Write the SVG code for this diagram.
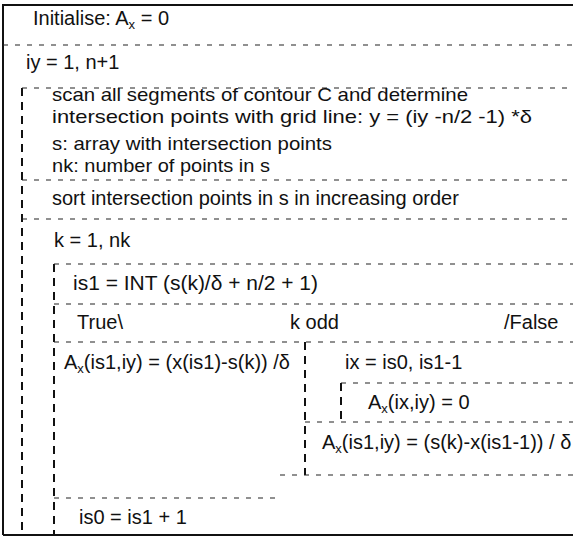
<svg xmlns="http://www.w3.org/2000/svg" width="573" height="537" viewBox="0 0 573 537">
<style>
text{font-family:"Liberation Sans",Arial,sans-serif;font-size:20px;fill:#111}
.t19{font-size:19px}
.sub{font-size:13px}
.frame{stroke:#111;stroke-width:2;fill:none}
.h{stroke:#222;stroke-width:1.2;stroke-dasharray:5 7;fill:none}
.v{stroke:#111;stroke-width:2;stroke-dasharray:8 6;fill:none}
</style>
<rect width="573" height="537" fill="#fff"/>
<g id="connectors">
<path class="frame" d="M3 535V5H573M3 535H573"/>
<path class="h" d="M3 45H573"/>
<path class="v" d="M22 88V535"/>
<path class="h" d="M22 88H573"/>
<path class="h" d="M22 180H573"/>
<path class="h" d="M22 219H573"/>
<path class="v" d="M54 264V535"/>
<path class="h" d="M54 264H573"/>
<path class="h" d="M54 304H573"/>
<path class="h" d="M54 342H573"/>
<path class="v" d="M305 342V475"/>
<path class="h" d="M341 383H573"/>
<path class="v" d="M341 383V422"/>
<path class="h" d="M305 422H573"/>
<path class="h" d="M280 475H573"/>
<path class="h" d="M54 498H275"/>
</g>
<g id="init"><text x="33" y="25">Initialise: A<tspan class="sub" dy="4">x</tspan><tspan dy="-4"> = 0</tspan></text></g>
<g id="loop-iy"><text x="26" y="69">iy = 1, n+1</text></g>
<g id="scan"><text class="t19" x="52" y="101" textLength="416" lengthAdjust="spacingAndGlyphs">scan all segments of contour C and determine</text>
<text class="t19" x="52" y="122.5" textLength="480" lengthAdjust="spacingAndGlyphs">intersection points with grid line: y = (iy -n/2 -1) *δ</text>
<text class="t19" x="52" y="150" textLength="280" lengthAdjust="spacingAndGlyphs">s: array with intersection points</text>
<text class="t19" x="52" y="171.5" textLength="218" lengthAdjust="spacingAndGlyphs">nk: number of points in s</text></g>
<g id="sort"><text x="52" y="205">sort intersection points in s in increasing order</text></g>
<g id="loop-k"><text x="54" y="247">k = 1, nk</text></g>
<g id="is1"><text x="73" y="290" textLength="245" lengthAdjust="spacingAndGlyphs">is1 = INT (s(k)/δ + n/2 + 1)</text></g>
<g id="cond"><text x="77" y="329">True\</text><text x="290" y="329">k odd</text><text x="504" y="329">/False</text></g>
<g id="true-branch"><text x="64" y="369">A<tspan class="sub" dy="4">x</tspan><tspan dy="-4">(is1,iy) = (x(is1)-s(k)) /δ</tspan></text></g>
<g id="loop-ix"><text x="345" y="369">ix = is0, is1-1</text></g>
<g id="ax-zero"><text x="368" y="409">A<tspan class="sub" dy="4">x</tspan><tspan dy="-4">(ix,iy) = 0</tspan></text></g>
<g id="false-branch"><text x="322" y="449">A<tspan class="sub" dy="4">x</tspan><tspan dy="-4">(is1,iy) = (s(k)-x(is1-1)) / δ</tspan></text></g>
<g id="is0"><text x="79" y="524">is0 = is1 + 1</text></g>
</svg>
